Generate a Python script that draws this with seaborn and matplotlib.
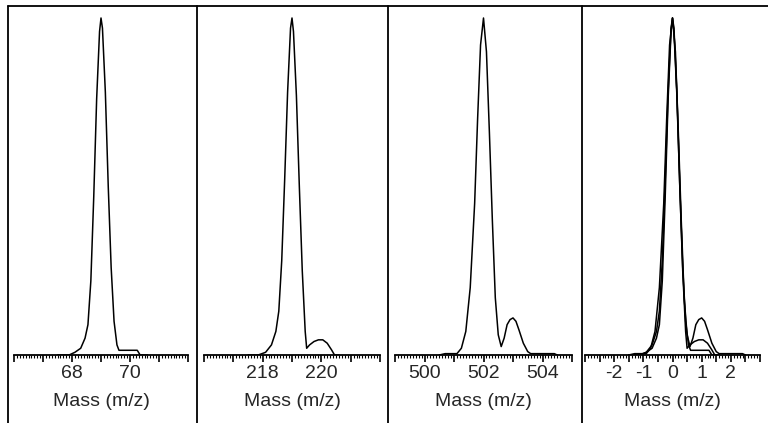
import numpy as np
import pandas as pd
import matplotlib.pyplot as plt
import seaborn as sns
from matplotlib.lines import Line2D
from matplotlib.ticker import MultipleLocator, FixedLocator

# spectrum 1 (nominal mass 69)
mz_69 = [67.5, 67.9, 68.1, 68.3, 68.45, 68.55, 68.65, 68.75, 68.85, 68.95, 69.0,
         69.05, 69.15, 69.25, 69.35, 69.45, 69.55, 69.62, 70.25, 70.35, 70.6]
int_69 = [0.0, 0.0, 0.008, 0.02, 0.05, 0.09, 0.22, 0.47, 0.76, 0.96, 1.0,
          0.97, 0.78, 0.5, 0.26, 0.1, 0.03, 0.014, 0.014, 0.0, 0.0]

# spectrum 2 (nominal mass 219)
mz_219 = [217.5, 217.85, 218.1, 218.3, 218.45, 218.55, 218.65, 218.75, 218.85, 218.95, 219.0,
          219.05, 219.15, 219.25, 219.35, 219.45, 219.5, 219.6, 219.75, 219.9, 220.05,
          220.2, 220.35, 220.45, 220.6]
int_219 = [0.0, 0.0, 0.008, 0.03, 0.07, 0.13, 0.28, 0.52, 0.78, 0.97, 1.0,
           0.96, 0.77, 0.5, 0.25, 0.07, 0.02, 0.03, 0.04, 0.045, 0.045,
           0.035, 0.015, 0.0, 0.0]

# spectrum 3 (nominal mass 502)
mz_502 = [500.5, 500.7, 501.1, 501.25, 501.4, 501.55, 501.7, 501.8, 501.9, 502.0,
          502.1, 502.2, 502.3, 502.4, 502.5, 502.6, 502.7, 502.8, 502.9, 503.0,
          503.1, 503.2, 503.35, 503.5, 503.6, 504.4, 504.5]
int_502 = [0.0, 0.004, 0.004, 0.02, 0.07, 0.2, 0.45, 0.7, 0.92, 1.0,
           0.9, 0.66, 0.4, 0.17, 0.06, 0.025, 0.05, 0.09, 0.105, 0.11,
           0.1, 0.075, 0.035, 0.01, 0.004, 0.004, 0.0]

nominal = [69, 219, 502]
xlims = [(66, 72), (216, 222), (499, 505), (-3, 3)]
tick_step = [1, 1, 1, 0.5]
tick_labels = [[68, 70], [218, 220], [500, 502, 504], [-2, -1, 0, 1, 2]]

spectra = [(mz_69, int_69), (mz_219, int_219), (mz_502, int_502)]

sns.set_style("white")
plt.rcParams['font.family'] = ['Liberation Sans', 'DejaVu Sans']

W, H = 768, 423
fig = plt.figure(figsize=(W / 100, H / 100), dpi=100)

# axis-line extents in pixels
ax_px = [(14, 188), (204, 380), (395, 572), (585, 760)]
top_px, base_px = 6, 355

for i, (x0, x1) in enumerate(ax_px):
    ax = fig.add_axes([x0 / W, 1 - base_px / H, (x1 - x0) / W, (base_px - top_px) / H])
    if i < 3:
        df = pd.DataFrame({"mz": spectra[i][0], "I": spectra[i][1]})
        sns.lineplot(data=df, x="mz", y="I", ax=ax, color="black", lw=1.1,
                     sort=False, estimator=None)
    else:
        # overlay of the three spectra, aligned on the monoisotopic peak
        for (mz, inten), nom in zip(spectra, nominal):
            df = pd.DataFrame({"dm": np.array(mz) - nom, "I": inten})
            sns.lineplot(data=df, x="dm", y="I", ax=ax, color="black", lw=1.1,
                         sort=False, estimator=None)
    ax.set_xlim(*xlims[i])
    ax.set_ylim(0, (base_px - top_px) / (base_px - 18))
    for s in ["left", "right", "top"]:
        ax.spines[s].set_visible(False)
    ax.spines["bottom"].set_linewidth(1.3)
    ax.spines["bottom"].set_color("black")
    ax.set_yticks([])
    lo, hi = xlims[i]
    major = np.arange(lo, hi + 1e-9, tick_step[i])
    ax.xaxis.set_major_locator(FixedLocator(major))
    ax.xaxis.set_minor_locator(MultipleLocator(0.1))
    labs = [("%g" % v) if any(abs(v - t) < 1e-9 for t in tick_labels[i]) else "" for v in major]
    ax.set_xticklabels(labs, fontsize=14)
    ax.tick_params(axis="x", which="major", direction="out", length=5, width=1.2,
                   color="black", pad=2, bottom=True)
    ax.tick_params(axis="x", which="minor", direction="out", length=2, width=0.8,
                   color="black", bottom=True)
    ax.set_xlabel("Mass (m/z)", fontsize=14, labelpad=8)
    ax.set_ylabel("")
    ax.patch.set_alpha(0)

# panel frame
for xp in [8, 197, 388, 582]:
    fig.add_artist(Line2D([xp / W, xp / W], [0, 1 - top_px / H], color="black", lw=1.3))
fig.add_artist(Line2D([8 / W, 1], [1 - top_px / H, 1 - top_px / H], color="black", lw=1.3))

fig.savefig("out.png", dpi=100)
